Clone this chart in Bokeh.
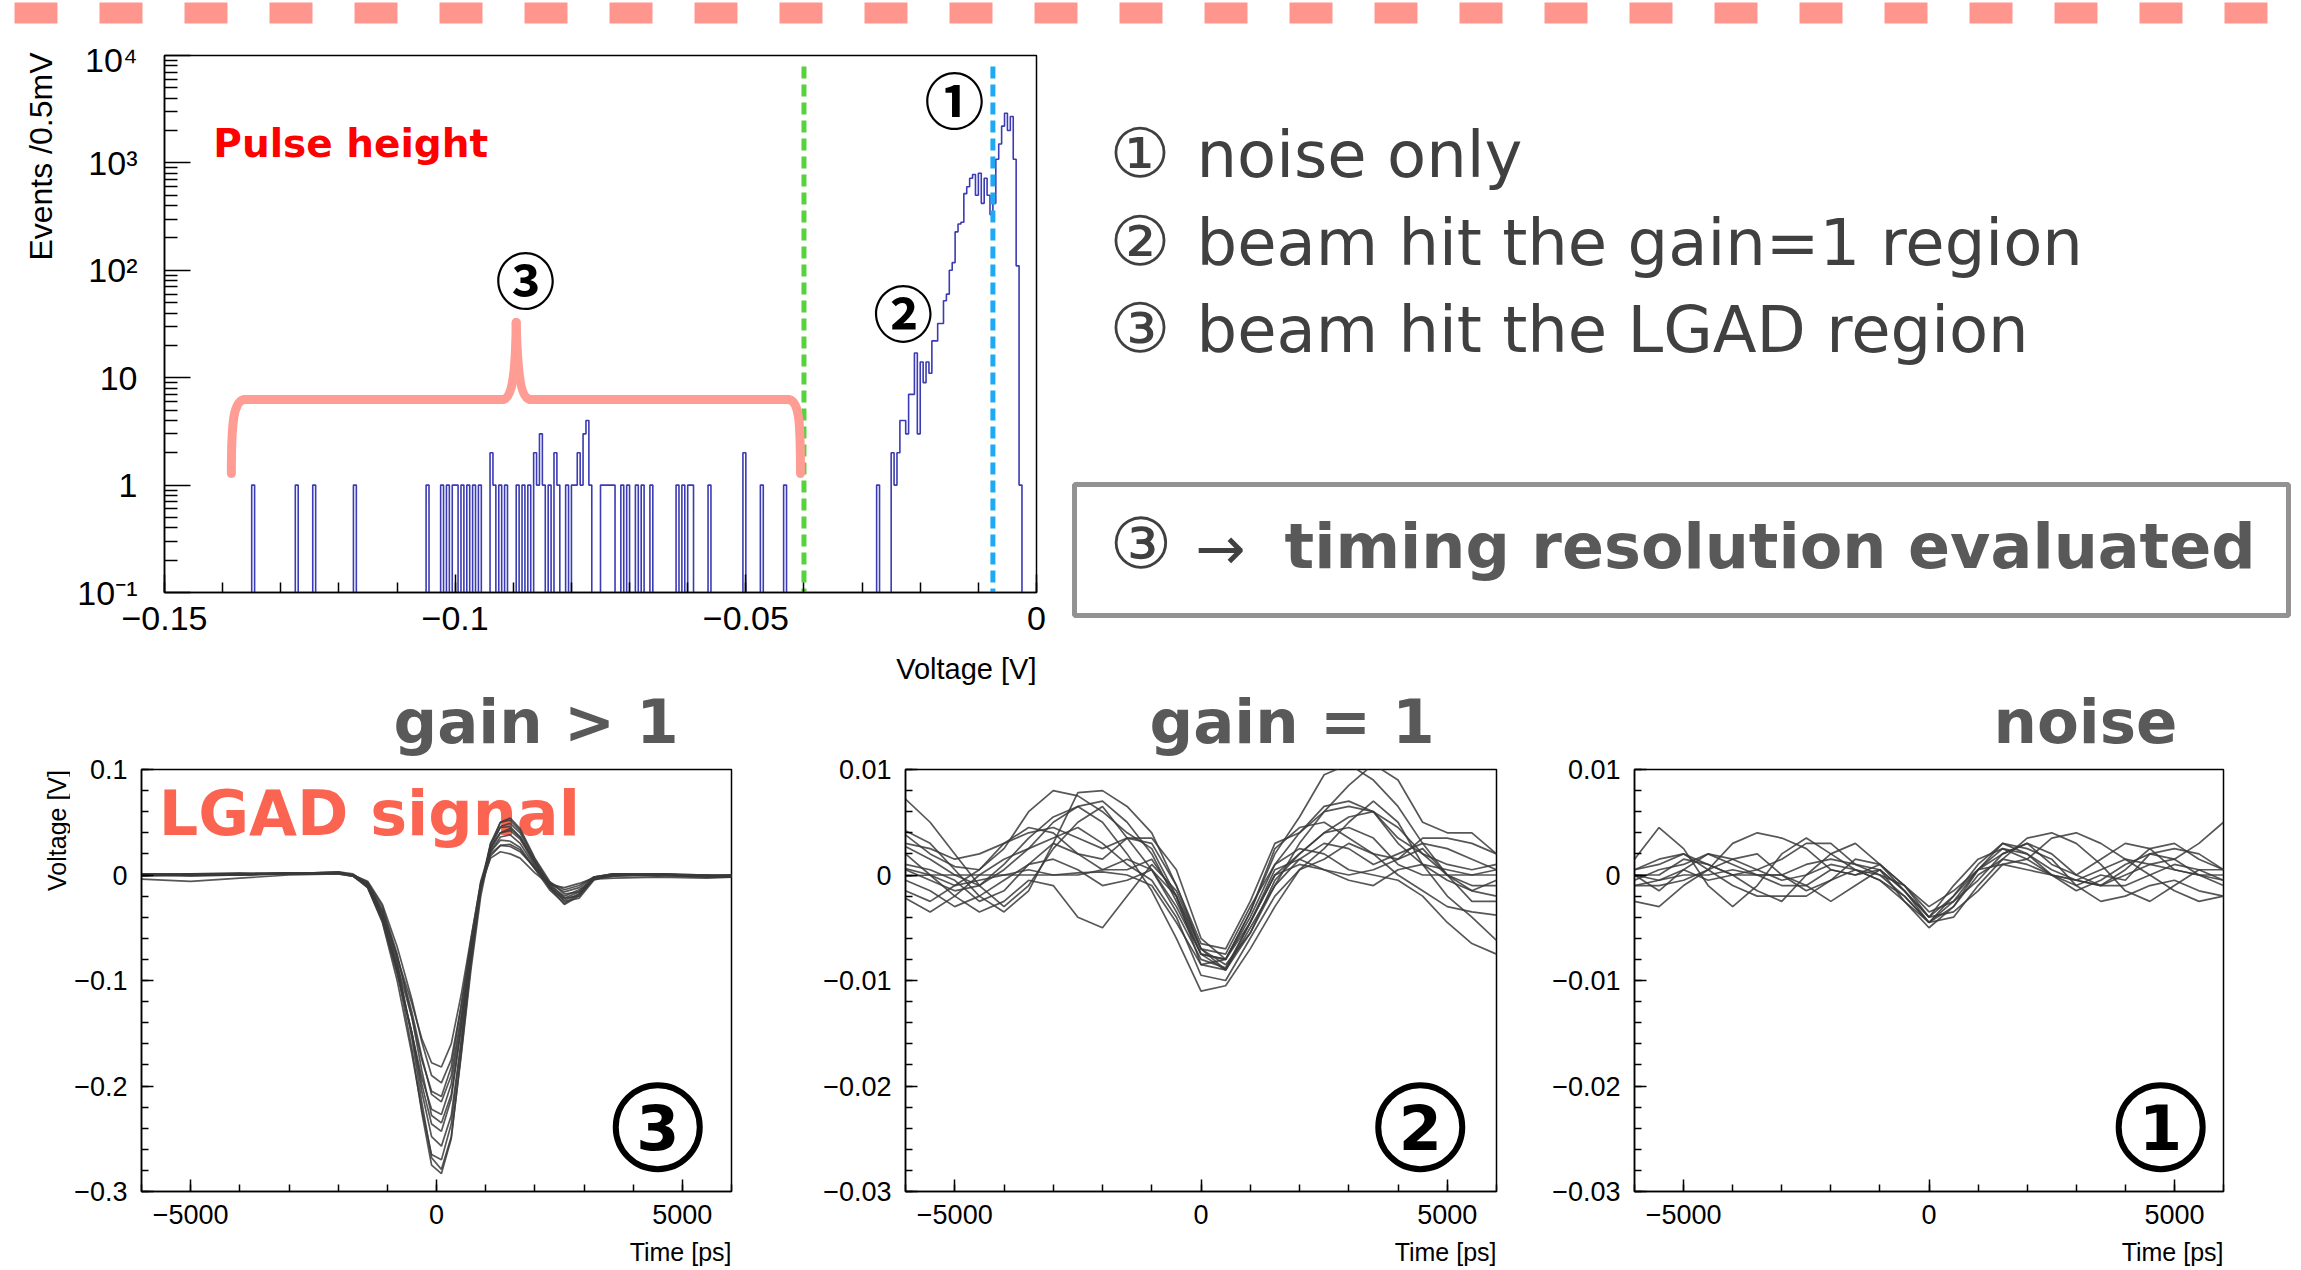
import math
from bokeh.plotting import figure
from bokeh.layouts import column, row
from bokeh.models import FixedTicker, CustomJSTickFormatter
from bokeh.core.properties import value
from bokeh.embed import file_html
from bokeh.resources import INLINE

# ---------------- data ----------------
# Pulse-height histogram (bins of 0.5 mV, lower edges in mV)
bin_width_mV = 0.5
hist_range_mV = (-150.0, 0.0)
tail_mV = [-135.0, -127.5, -124.5, -117.5, -105.0, -102.5, -101.5, -100.5, -100.0, -99.0,
           -98.0, -97.0, -96.0, -94.0, -93.5, -92.5, -91.5, -89.5, -88.5, -87.5,
           -86.5, -86.0, -85.5, -85.0, -84.0, -83.0, -82.5, -81.0, -80.0, -79.5,
           -79.0, -78.5, -78.0, -77.5, -77.0, -75.0, -74.5, -74.0, -73.5, -73.0,
           -71.5, -70.5, -69.0, -68.0, -66.5, -62.0, -61.0, -60.0, -59.5, -56.5,
           -50.5, -47.5, -43.5]
tail_counts = [1, 1, 1, 1, 1, 1, 1, 1, 1, 1,
               1, 1, 1, 2, 1, 1, 1, 1, 1, 1,
               2, 1, 3, 1, 1, 2, 1, 1, 1, 1,
               2, 1, 3, 4, 1, 1, 1, 1, 1, 1,
               1, 1, 1, 1, 1, 1, 1, 1, 1, 1,
               2, 1, 1]
peak_start_mV = -27.5
peak_counts = [1, 0, 0, 0, 0, 2, 1, 2, 4, 4,
               3, 7, 7, 17, 3, 14, 9, 14, 11, 22,
               22, 32, 32, 52, 60, 100, 118, 228, 270, 280,
               517, 600, 720, 780, 500, 800, 420, 720, 500, 330,
               420, 1080, 1500, 2200, 2900, 2000, 2700, 1080, 110, 1]
thresholds_V = [-0.040, -0.0075]

# Waveforms, gain > 1 (LGAD signal), volts
gain_t = [-6000, -5000, -4000, -3000, -2000, -1700, -1400, -1100, -800, -500,
          -300, -100, 100, 300, 500, 700, 900, 1100, 1300, 1500,
          1700, 2000, 2300, 2600, 2900, 3200, 3600, 4500, 5500, 6000]
lgad_traces = [
    [0.001, 0.000, 0.001, 0.002, 0.002, 0.000, -0.010, -0.040, -0.090, -0.165, -0.225, -0.275, -0.283, -0.250, -0.170, -0.085, -0.015, 0.030, 0.050, 0.052, 0.042, 0.015, -0.008, -0.022, -0.020, -0.004, 0.000, 0.001, -0.001, 0.000],
    [0.000, 0.001, 0.000, 0.001, 0.003, 0.001, -0.008, -0.035, -0.082, -0.155, -0.215, -0.268, -0.279, -0.248, -0.172, -0.090, -0.020, 0.025, 0.046, 0.049, 0.040, 0.013, -0.010, -0.025, -0.022, -0.005, 0.001, 0.000, -0.002, -0.001],
    [-0.001, 0.000, 0.001, 0.001, 0.002, 0.000, -0.012, -0.045, -0.100, -0.170, -0.222, -0.265, -0.270, -0.236, -0.160, -0.078, -0.010, 0.030, 0.045, 0.046, 0.036, 0.012, -0.012, -0.028, -0.020, -0.003, 0.000, -0.001, 0.000, -0.001],
    [0.000, -0.001, 0.000, 0.002, 0.002, 0.000, -0.009, -0.038, -0.088, -0.150, -0.205, -0.248, -0.257, -0.228, -0.158, -0.080, -0.012, 0.026, 0.040, 0.042, 0.034, 0.010, -0.012, -0.024, -0.018, -0.002, 0.001, 0.000, -0.001, 0.000],
    [-0.004, -0.006, -0.003, 0.000, 0.001, -0.001, -0.011, -0.042, -0.092, -0.150, -0.198, -0.236, -0.243, -0.212, -0.145, -0.072, -0.008, 0.022, 0.033, 0.032, 0.026, 0.006, -0.014, -0.027, -0.018, -0.004, -0.003, -0.002, -0.003, -0.002],
    [0.001, 0.001, 0.002, 0.001, 0.003, 0.000, -0.007, -0.030, -0.075, -0.135, -0.185, -0.228, -0.235, -0.208, -0.146, -0.075, -0.012, 0.028, 0.050, 0.054, 0.044, 0.016, -0.006, -0.018, -0.016, -0.002, 0.001, 0.001, 0.000, 0.000],
    [0.000, 0.000, 0.001, 0.001, 0.002, -0.001, -0.012, -0.044, -0.094, -0.150, -0.192, -0.222, -0.227, -0.198, -0.138, -0.070, -0.010, 0.022, 0.036, 0.038, 0.030, 0.008, -0.012, -0.022, -0.016, -0.003, 0.000, 0.000, -0.002, -0.002],
    [0.000, 0.000, 0.000, 0.002, 0.002, 0.000, -0.008, -0.033, -0.078, -0.130, -0.172, -0.208, -0.215, -0.190, -0.134, -0.072, -0.013, 0.018, 0.028, 0.029, 0.024, 0.006, -0.010, -0.020, -0.014, -0.004, -0.001, 0.001, -0.001, -0.001],
    [0.001, 0.000, 0.001, 0.001, 0.001, -0.001, -0.010, -0.040, -0.085, -0.135, -0.175, -0.205, -0.210, -0.182, -0.125, -0.062, -0.006, 0.024, 0.040, 0.044, 0.036, 0.012, -0.008, -0.016, -0.012, -0.002, 0.001, 0.000, -0.001, 0.000],
    [0.000, 0.001, 0.000, 0.001, 0.002, 0.000, -0.006, -0.028, -0.068, -0.118, -0.158, -0.190, -0.197, -0.175, -0.124, -0.066, -0.010, 0.016, 0.022, 0.020, 0.016, 0.002, -0.009, -0.012, -0.008, -0.003, -0.001, 0.000, -0.001, -0.002],
    [0.000, 0.000, 0.001, 0.002, 0.002, 0.000, -0.009, -0.036, -0.078, -0.122, -0.155, -0.178, -0.182, -0.160, -0.114, -0.060, -0.008, 0.020, 0.028, 0.027, 0.022, 0.007, -0.007, -0.014, -0.010, -0.002, 0.000, 0.001, 0.000, -0.001],
]

# Waveforms gain = 1 and noise, mV, sampled every 500 ps
wave_t = [-6000, -5500, -5000, -4500, -4000, -3500, -3000, -2500, -2000, -1500,
          -1000, -500, 0, 500, 1000, 1500, 2000, 2500, 3000, 3500,
          4000, 4500, 5000, 5500, 6000]
gain1_traces_mV = [
    [7.2, 5.0, 2.0, -1.0, -3.0, -1.0, 2.5, 5.0, 6.5, 3.5, 0.5, -3.5, -8.0, -8.8, -4.5, 0.5, 1.5, 0.5, 0.0, 0.5, 1.5, 3.5, 3.5, 3.0, 2.0],
    [4.2, 3.0, 0.5, -2.0, -3.5, -1.5, 3.0, 7.8, 8.0, 6.5, 4.0, -1.0, -7.0, -9.0, -5.0, -1.0, 3.0, 6.0, 6.5, 6.0, 3.0, 1.0, 0.5, 0.0, 0.5],
    [3.8, 2.0, 0.8, 0.5, 2.5, 6.0, 8.0, 7.5, 6.0, 4.0, 2.5, -2.0, -8.5, -8.0, -3.5, 2.0, 5.5, 9.5, 10.5, 9.0, 6.5, 3.0, 0.0, -1.5, -2.0],
    [2.7, 1.5, 0.0, -1.0, 1.0, 3.5, 5.5, 6.5, 7.0, 5.0, 2.0, -2.5, -7.5, -8.0, -4.0, 1.0, 4.0, 6.5, 7.0, 6.0, 3.5, 2.0, 1.0, 0.5, 1.0],
    [2.0, 0.0, -2.0, -3.5, -2.5, -0.5, -1.0, -4.0, -5.0, -2.0, 1.0, -1.5, -7.0, -8.5, -5.5, -1.0, 1.5, 3.0, 2.5, 1.0, 2.0, 3.0, 2.5, 1.5, 0.5],
    [0.6, 0.0, -1.0, -0.5, 0.0, 0.5, 0.0, 0.0, 0.5, 1.5, 0.5, -3.0, -7.5, -8.0, -4.5, 0.0, 2.0, 4.0, 5.5, 6.0, 4.5, 2.0, 0.0, -1.0, -1.0],
    [-0.1, 0.0, 0.0, 0.0, 0.0, 0.0, 0.0, 0.2, 0.3, 0.0, -1.0, -4.5, -8.5, -9.0, -5.5, -0.5, 2.0, 4.0, 4.5, 3.5, 1.0, 0.0, 0.0, 0.0, 0.0],
    [-1.5, -2.5, -1.0, 0.5, 3.0, 4.5, 4.0, 2.0, 0.5, 0.5, 1.5, -2.0, -7.0, -7.5, -3.0, 1.0, 2.5, 2.0, 0.5, 0.0, -0.5, -2.0, -4.5, -6.5, -7.5],
    [-2.2, -3.5, -2.0, 0.0, 1.5, 2.5, 3.5, 4.5, 3.0, 1.0, -0.5, -4.0, -9.5, -10.0, -6.0, -2.0, 0.5, 2.5, 5.0, 7.0, 5.0, 1.0, -2.0, -4.0, -6.2],
    [0.5, -0.5, -1.5, -1.0, 0.5, 2.5, 5.0, 6.5, 5.0, 2.0, -1.5, -6.0, -11.0, -10.5, -7.0, -3.0, 0.5, 1.5, 3.0, 2.0, 0.0, -1.5, -3.0, -3.5, -3.8],
    [3.0, 2.5, 1.5, 2.0, 3.0, 4.0, 4.5, 3.5, 2.5, 3.5, 3.0, -1.0, -6.5, -7.0, -2.5, 3.0, 4.0, 6.0, 8.5, 10.5, 9.0, 5.0, 4.0, 4.0, 2.0],
    [1.0, 0.5, -0.5, -2.5, -1.5, 1.0, 3.0, 2.0, 1.5, 3.5, 3.5, 0.5, -6.0, -8.0, -3.5, 2.5, 4.5, 5.0, 3.5, 2.0, 1.5, 2.5, 0.0, -2.5, -2.5],
    [-0.5, -1.5, -3.0, -2.0, -0.5, 1.0, 1.5, 0.5, -1.0, -0.5, 0.5, -2.0, -7.5, -9.0, -4.5, 0.0, 1.0, 0.5, -0.5, -1.0, 0.5, 1.0, -0.5, -1.5, -0.5],
]
noise_traces_mV = [
    [1.5, 4.5, 2.5, -1.0, -3.0, -1.0, 2.0, 3.5, 2.0, 0.5, -0.5, -2.0, -4.5, -2.0, 1.0, 3.0, 2.0, 0.0, -1.5, -0.5, 1.0, 2.0, 1.5, 0.0, -1.0],
    [0.0, -1.5, 0.5, 2.0, 1.0, 0.0, 0.0, 1.0, 1.5, 1.0, 0.5, -1.5, -4.0, -1.0, 1.5, 2.5, 1.5, 0.0, -0.5, 0.5, 1.5, 1.0, 0.5, 0.0, -0.5],
    [-2.5, -3.0, -1.0, 0.5, 1.5, 2.0, 0.0, -1.5, -0.5, 0.5, 0.0, -2.0, -4.5, -4.0, -1.0, 1.5, 3.5, 4.0, 3.0, 1.0, -1.5, -2.5, -1.0, 0.5, 0.5],
    [0.0, 0.0, 1.5, 1.0, 0.0, -1.5, -2.5, 0.0, 2.0, 3.0, 1.0, -1.0, -3.0, -1.5, 0.5, 2.0, 3.0, 2.0, 0.0, -1.0, 0.5, 2.5, 3.0, 1.5, 0.5],
    [0.5, 1.0, 2.0, 1.0, 0.0, 0.0, 0.0, -1.0, -2.5, -1.0, 0.5, -1.5, -4.5, -2.5, 0.5, 2.5, 2.0, 0.5, -0.5, -1.0, 0.0, 1.0, 1.5, 3.0, 5.0],
    [-1.0, -1.0, -0.5, 0.5, 3.0, 4.0, 3.5, 2.5, 0.5, 0.0, 1.0, -1.5, -4.0, -3.5, -1.5, 1.0, 1.5, 3.5, 4.0, 3.0, 1.5, 0.0, -1.5, -2.5, -2.0],
    [0.0, -0.5, 0.0, 0.0, 0.5, 0.0, -1.0, -1.0, 0.5, 0.0, 0.5, -2.5, -5.0, -3.0, 0.0, 1.5, 1.0, 0.0, -1.0, 0.0, -0.5, 2.0, 2.5, 2.0, 0.5],
    [0.5, 1.5, 2.0, 0.5, -1.0, -2.0, -2.0, -2.0, -0.5, 1.5, 1.0, -1.0, -4.0, -2.0, 0.5, 1.0, 0.5, 0.0, -0.5, -1.0, -1.0, 0.0, 1.0, 0.5, -0.5],
    [-0.5, 0.5, 1.0, 2.0, 1.5, 0.5, -0.5, 0.0, 1.0, 0.5, -0.5, -2.5, -4.5, -3.0, 0.5, 3.0, 2.5, 1.5, -1.0, -2.5, -2.0, -1.0, -0.5, -1.5, -2.0],
    [-1.0, -0.5, 0.5, -0.5, 0.0, 0.5, 1.5, 3.0, 3.0, 1.0, 0.0, -1.0, -3.5, -2.5, -0.5, 2.0, 3.0, 1.0, 0.0, 1.5, 3.0, 2.5, 0.5, 0.0, 0.0],
]

legend_items = ["noise only", "beam hit the gain=1 region", "beam hit the LGAD region"]
legend_marks = ["\u2460", "\u2461", "\u2462"]
panel_titles = ["gain > 1", "gain = 1", "noise"]

# ---------------- helpers ----------------
lin_fmt_code = """
const v = +tick.toFixed(6);
return v < 0 ? '\u2212' + String(-v) : String(v);
"""
log_fmt_code = """
const e = Math.round(Math.log10(tick));
const m = {"-1": "10\u207b\u00b9", "0": "1", "1": "10", "2": "10\u00b2", "3": "10\u00b3", "4": "10\u2074"};
return m[String(e)];
"""

ROOT_FONT = "Liberation Sans"
GRAY_TXT = "#404040"
BOLD_GRAY = "#595959"


def style_axis(ax, font_size, tick_in, minor_in, standoff):
    ax.major_label_text_font = ROOT_FONT
    ax.major_label_text_font_size = font_size
    ax.major_label_text_color = "black"
    ax.major_tick_in = tick_in
    ax.major_tick_out = 0
    ax.minor_tick_in = minor_in
    ax.minor_tick_out = 0
    ax.axis_line_width = 1.5
    ax.major_tick_line_width = 1.5
    ax.minor_tick_line_width = 1.5
    ax.major_label_standoff = standoff


def blank(width, height, xr, yr, y_type="linear"):
    f = figure(width=width, height=height, x_range=xr, y_range=yr, title=None,
               x_axis_location=None, y_axis_location=None, y_axis_type=y_type,
               toolbar_location=None, output_backend="svg", min_border=0)
    f.grid.visible = False
    f.outline_line_color = None
    return f


def root_text(f, xs, ys, texts, size, align="left", angle=0.0):
    f.text(x=xs, y=ys, text=texts, text_font=value(ROOT_FONT), text_font_size=size,
           text_color="black", text_align=align, text_baseline="middle" if angle else "alphabetic",
           angle=angle)


# ---------------- top strip (dashed separator) ----------------
strip = blank(2301, 40, (0, 2301), (40, 0))
strip.line([14, 2301], [12.5, 12.5], line_width=21, line_color="#ff968e", line_dash="43 42")

# ---------------- histogram ----------------
nb = int(round((hist_range_mV[1] - hist_range_mV[0]) / bin_width_mV))
counts = [0] * nb
for e, c in zip(tail_mV, tail_counts):
    counts[int(round((e - hist_range_mV[0]) / bin_width_mV))] += c
i0 = int(round((peak_start_mV - hist_range_mV[0]) / bin_width_mV))
for j, c in enumerate(peak_counts):
    counts[i0 + j] += c
edges = [(hist_range_mV[0] + i * bin_width_mV) / 1000.0 for i in range(nb + 1)]
ys = [c if c > 0 else 1e-3 for c in counts] + [1e-3]

hist = figure(width=990, height=605, x_range=(-0.15, 0.0), y_range=(0.1, 1e4),
              y_axis_type="log", toolbar_location=None, output_backend="svg", title=None,
              min_border_left=94, min_border_right=24, min_border_top=15, min_border_bottom=53)
hist.grid.visible = False
hist.outline_line_color = "black"
hist.outline_line_width = 1.5
xa = hist.xaxis[0]
ya = hist.yaxis[0]
xa.ticker = FixedTicker(ticks=[-0.15, -0.1, -0.05, 0.0],
                        minor_ticks=[round(-0.15 + 0.01 * k, 3) for k in range(16)])
xa.formatter = CustomJSTickFormatter(code=lin_fmt_code)
ya.ticker = FixedTicker(ticks=[0.1, 1, 10, 100, 1000, 10000],
                        minor_ticks=[m * 10.0 ** e for e in range(-1, 4) for m in range(2, 10)])
ya.formatter = CustomJSTickFormatter(code=log_fmt_code)
style_axis(xa, "34px", 18, 10, 14)
style_axis(ya, "34px", 26, 13, 27)

hist.step(edges, ys, mode="after", line_color="#3b3bb3", line_width=1.6)
thr_colors = ["#58d23c", "#1fa9f4"]
for thr, col in zip(thresholds_V, thr_colors):
    hist.segment(x0=[thr], y0=[7900], x1=[thr], y1=[0.05], line_color=col,
                 line_width=5, line_dash="12 6")

# curly brace over region 3
brace_col = "#ff9c94"
bl, bl2, bm, br2, br = -0.1385, -0.1361, -0.0895, -0.0428, -0.0406
by_end, by_line, by_tip = 1.28, 6.27, 32.7
bw = dict(line_color=brace_col, line_width=9, line_cap="round")
hist.bezier(x0=[bl], y0=[by_end], x1=[bl2], y1=[by_line], cx0=[bl], cy0=[4.0], cx1=[-0.1381], cy1=[by_line], **bw)
hist.segment(x0=[bl2], y0=[by_line], x1=[-0.0918], y1=[by_line], **bw)
hist.bezier(x0=[-0.0918], y0=[by_line], x1=[bm], y1=[by_tip], cx0=[-0.0901], cy0=[by_line], cx1=[-0.0896], cy1=[11.7], **bw)
hist.bezier(x0=[bm], y0=[by_tip], x1=[-0.0870], y1=[by_line], cx0=[-0.0893], cy0=[11.7], cx1=[-0.0888], cy1=[by_line], **bw)
hist.segment(x0=[-0.0870], y0=[by_line], x1=[br2], y1=[by_line], **bw)
hist.bezier(x0=[br2], y0=[by_line], x1=[br], y1=[by_end], cx0=[-0.0408], cy0=[by_line], cx1=[br], cy1=[4.0], **bw)

hist.text(x=[-0.1416], y=[1513], text=["Pulse height"], text_font=value("DejaVu Sans"),
          text_font_style="bold", text_font_size="39px", text_color="#ff0000",
          text_baseline="alphabetic")
hist.text(x=[-0.0141, -0.0229, -0.0879], y=[4065, 42.5, 86], text=["\u2460", "\u2461", "\u2462"],
          text_font=value("Noto Sans CJK JP"), text_font_style="bold", text_font_size="60px",
          text_color="black", text_align="center", text_baseline="middle")

# histogram axis titles (slim canvases aligned with the histogram frame)
hist_xlab = blank(990, 40, (-0.15, 0.0), (40, 0))
root_text(hist_xlab, [0.0], [23], ["Voltage [V]"], "29px", align="right")
hist_ylab = blank(70, 645, (0, 70), (0, 645))
root_text(hist_ylab, [40], [633], ["Events /0.5mV"], "32px", align="right", angle=math.pi / 2)

# ---------------- text panel ----------------
txt = blank(1241, 645, (0, 1241), (645, 0))
txt.text(x=[49, 49, 49], y=[113, 201, 288], text=legend_marks,
         text_font=value("DejaVu Sans"), text_font_size="68px", text_color=GRAY_TXT,
         text_baseline="alphabetic")
txt.text(x=[136, 136, 136], y=[114, 202, 289], text=legend_items,
         text_font=value("DejaVu Sans"), text_font_size="64px", text_color=GRAY_TXT,
         text_baseline="alphabetic")
txt.quad(left=[14], right=[1228], top=[444], bottom=[575], fill_color=None,
         line_color="#929292", line_width=5)
txt.text(x=[49], y=[503], text=["\u2462"], text_font=value("DejaVu Sans"), text_font_size="70px",
         text_color=GRAY_TXT, text_baseline="alphabetic")
txt.text(x=[135], y=[507], text=["\u2192"], text_font=value("DejaVu Sans"), text_font_size="60px",
         text_color=GRAY_TXT, text_baseline="alphabetic")
txt.text(x=[224], y=[506], text=["timing resolution evaluated"], text_font=value("DejaVu Sans"),
         text_font_size="62px", text_font_style="bold", text_color=BOLD_GRAY,
         text_baseline="alphabetic")

# ---------------- panel titles strip ----------------
tstrip = blank(2301, 71, (0, 2301), (71, 0))
tstrip.text(x=[393, 1149, 1993], y=[36, 36, 36], text=panel_titles,
            text_font=value("DejaVu Sans"), text_font_style="bold", text_font_size="61px",
            text_color=BOLD_GRAY, text_baseline="alphabetic")


# ---------------- waveform panels ----------------
def make_panel(width, b_left, b_right, yr, yticks, yminor, xs, traces, digit, mark_xy, note=None):
    p = figure(width=width, height=479, x_range=(-6000, 6000), y_range=yr,
               toolbar_location=None, output_backend="svg", title=None,
               min_border_left=b_left, min_border_right=b_right,
               min_border_top=13, min_border_bottom=44)
    p.grid.visible = False
    p.outline_line_color = "black"
    p.outline_line_width = 1.5
    xa = p.xaxis[0]
    ya = p.yaxis[0]
    xa.ticker = FixedTicker(ticks=[-5000, 0, 5000], minor_ticks=list(range(-6000, 6001, 1000)))
    xa.formatter = CustomJSTickFormatter(code=lin_fmt_code)
    ya.ticker = FixedTicker(ticks=yticks, minor_ticks=yminor)
    ya.formatter = CustomJSTickFormatter(code=lin_fmt_code)
    style_axis(xa, "27px", 12, 7, 13)
    style_axis(ya, "27px", 12, 7, 14)
    if note:
        p.text(x=[note[1]], y=[note[2]], text=[note[0]], text_font=value("DejaVu Sans"),
               text_font_style="bold", text_font_size="62px", text_color="#fa6450",
               text_baseline="alphabetic")
    for tr in traces:
        p.line(xs, tr, line_color="#3a3a3a", line_width=1.7, line_alpha=0.85)
    # circled region number
    p.scatter(x=[mark_xy[0]], y=[mark_xy[1]], marker="circle", size=84, fill_color=None,
              line_color="black", line_width=6)
    p.text(x=[mark_xy[0]], y=[mark_xy[1]], text=[digit], text_font=value("DejaVu Sans"),
           text_font_style="bold", text_font_size="62px", text_color="black",
           text_align="center", text_baseline="middle")
    return p


p1 = make_panel(730, 71, 69, (-0.3, 0.1), [-0.3, -0.2, -0.1, 0.0, 0.1],
                [round(-0.3 + 0.02 * k, 3) for k in range(21)],
                gain_t, lgad_traces, "3", (4500, -0.239), note=("LGAD signal", -5650, 0.0583))

g1 = [[v / 1000.0 for v in tr] for tr in gain1_traces_mV]
nz = [[v / 1000.0 for v in tr] for tr in noise_traces_mV]
small_ticks = [-0.03, -0.02, -0.01, 0.0, 0.01]
small_minor = [round(-0.03 + 0.002 * k, 4) for k in range(21)]
p2 = make_panel(740, 105, 44, (-0.03, 0.01), small_ticks, small_minor,
                wave_t, g1, "2", (4452, -0.0239))
p3 = make_panel(761, 94, 78, (-0.03, 0.01), small_ticks, small_minor,
                wave_t, nz, "1", (4720, -0.0239))

# y title for the first panel; its canvas shares the panel's vertical frame
panel_ylab = blank(70, 479, (0, 70), (-0.3, 0.1))
root_text(panel_ylab, [56], [0.0995], ["Voltage [V]"], "25px", align="right", angle=math.pi / 2)
time_strip = blank(2301, 35, (0, 2301), (35, 0))
root_text(time_strip, [731, 1496, 2223], [16, 16, 16], ["Time [ps]"] * 3, "25px", align="right")

layout = column(
    strip,
    row(hist_ylab, column(hist, hist_xlab), txt),
    tstrip,
    row(panel_ylab, p1, p2, p3),
    time_strip,
)
open("out.html", "w").write(file_html(layout, INLINE))
